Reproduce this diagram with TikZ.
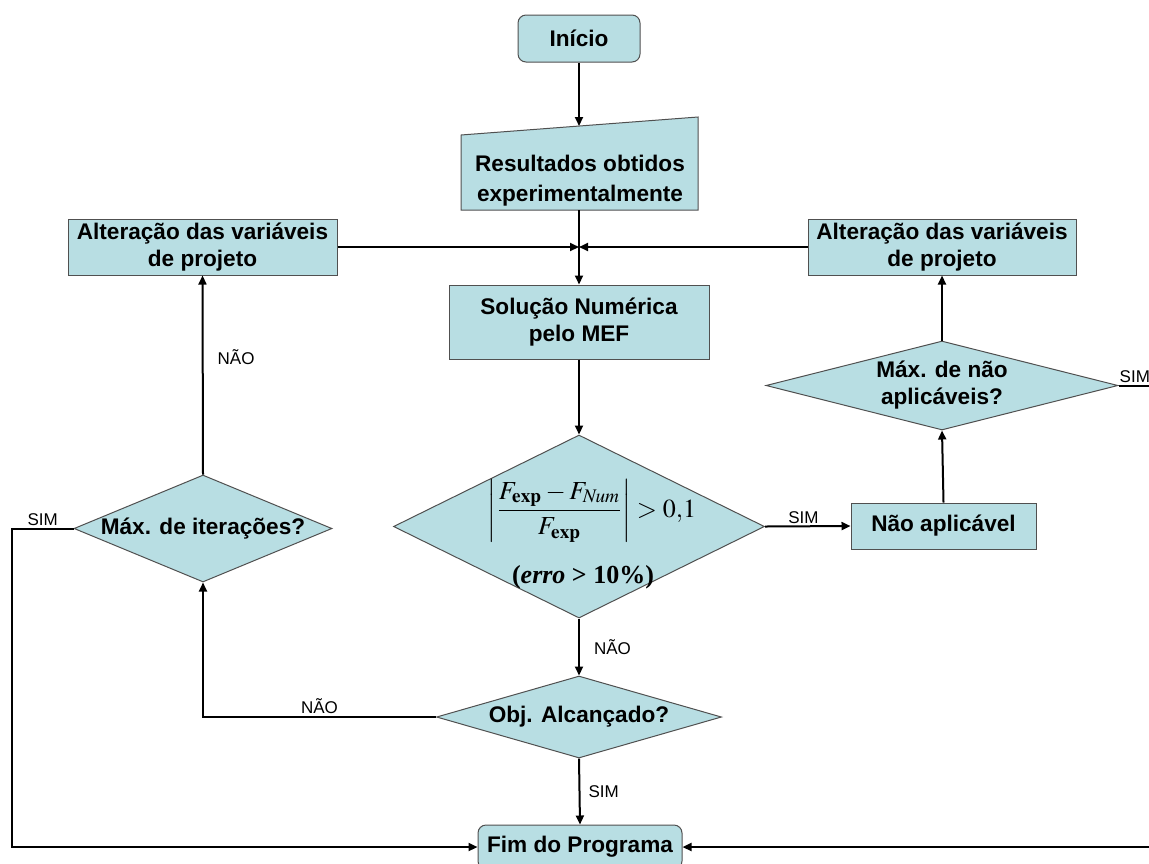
\documentclass[tikz,border=0pt]{standalone}
\usepackage{amsmath}
\usepackage{mathptmx}
\usepackage[no-math]{fontspec}
\setmainfont{Liberation Sans}
\newfontfamily\timesfont{Liberation Serif}
\usepackage{tikz}
\usetikzlibrary{shapes.geometric, arrows.meta, positioning, calc}
\definecolor{boxfill}{RGB}{184,222,227}
\definecolor{boxline}{RGB}{80,80,80}

\begin{document}
\begin{tikzpicture}[
    x=0.5pt, y=-0.5pt,
    % Styles
    proc/.style={rectangle, draw=boxline, line width=0.5pt, fill=boxfill, align=center, inner sep=0pt, font=\fontsize{11.3}{13.5}\selectfont\bfseries},
    term/.style={proc, rounded corners=4pt},
    dec/.style={diamond, draw=boxline, line width=0.5pt, fill=boxfill, inner sep=0pt},
    dectext/.style={align=center, inner sep=0pt, font=\fontsize{11.3}{13.5}\selectfont\bfseries},
    arrow/.style={-{Triangle[length=4.5pt, width=4pt]}, line width=1pt},
    lbl/.style={font=\fontsize{8.5}{10}\selectfont, inner sep=1pt},
]
\useasboundingbox (0,0) rectangle (1149,863);
\clip (0,0) rectangle (1149,863);

% ===== START / INPUT =====
\node[term, minimum width=61pt, minimum height=23.5pt] (inicio) at (579,38.5) {Início};

% manual input block (slanted top)
\filldraw[fill=boxfill, draw=boxline, line width=0.5pt] (461,210) -- (461,135) -- (698,117) -- (698,210) -- cycle;
\node[dectext, font=\fontsize{11.3}{15}\selectfont\bfseries] (res) at (580,181) {Resultados obtidos\\experimentalmente};
\coordinate (resin) at (579,126);
\coordinate (resout) at (579,210);
\coordinate (join) at (579,247);

% ===== PROCESS BOXES =====
\node[proc, minimum width=134.5pt, minimum height=28pt] (altesq) at (202.5,247) {Alteração das variáveis\\de projeto};
\node[proc, minimum width=134pt, minimum height=28pt] (altdir) at (942,247) {Alteração das variáveis\\de projeto};
\node[proc, minimum width=130pt, minimum height=37pt] (sol) at (579,322) {Solução Numérica\\pelo MEF};
\node[proc, minimum width=92.5pt, minimum height=23pt] (naoapl) at (943.5,526) {Não aplicável};

% ===== DECISIONS =====
\node[dec, minimum width=185.5pt, minimum height=91.5pt] (erro) at (579,526.5) {};
\node[font=\fontsize{13}{16}\selectfont] (errof) at (592,511) {$\left|\dfrac{F_{\mathbf{exp}}-F_{\mathit{Num}}}{F_{\mathbf{exp}}}\right|>0{,}1$};
\node[font=\fontsize{13}{16}\timesfont\bfseries] (errot) at (583,577) {(\textit{erro} > 10\%)};

\node[dec, minimum width=176pt, minimum height=44.5pt] (maxnao) at (942,385.5) {};
\node[dectext] (maxnaot) at (maxnao) {Máx. de não\\aplicáveis?};

\node[dec, minimum width=129pt, minimum height=53.5pt] (itera) at (203,528.5) {};
\node[dectext] (iterat) at (itera) {Máx. de iterações?};

\node[dec, minimum width=142.5pt, minimum height=41pt] (obj) at (579,717) {};
\node[dectext] (objt) at (obj) {Obj. Alcançado?};

% ===== END =====
\node[term, minimum width=102pt, minimum height=22pt] (fim) at (580,847) {Fim do Programa};

% outer return lines
\coordinate (lft) at (12,0);
\coordinate (rgt) at (1165,0);

% ===== ARROWS =====
\draw[arrow] (inicio.south) -- (resin);
\draw[arrow] (resout) -- (sol.north);
\draw[arrow] (altesq.east) -- (join);
\draw[arrow] (altdir.west) -- (join);
\draw[arrow] (sol.south) -- (erro.north);

% right branch
\draw[arrow] (erro.east) -- node[lbl, above, pos=0.45] {SIM} (naoapl.west);
\draw[arrow] (naoapl.north) -- (maxnao.south);
\draw[arrow] (maxnao.north) -- (altdir.south);
\draw[arrow] (maxnao.east) -- node[lbl, above, pos=0.35] {SIM} (maxnao.east -| rgt) |- (fim.east);

% left branch
\draw[arrow] (obj.west) -| node[lbl, above, pos=0.25] {NÃO} (itera.south);
\draw[arrow] (itera.north) -- node[lbl, right=6pt, pos=0.59] {NÃO} (altesq.south);
\draw[arrow] (itera.west) -- node[lbl, above] {SIM} (itera.west -| lft) |- (fim.west);

% main spine
\draw[arrow] (erro.south) -- node[lbl, right=6pt] {NÃO} (obj.north);
\draw[arrow] (obj.south) -- node[lbl, right=3pt] {SIM} (fim.north);

\end{tikzpicture}
\end{document}
